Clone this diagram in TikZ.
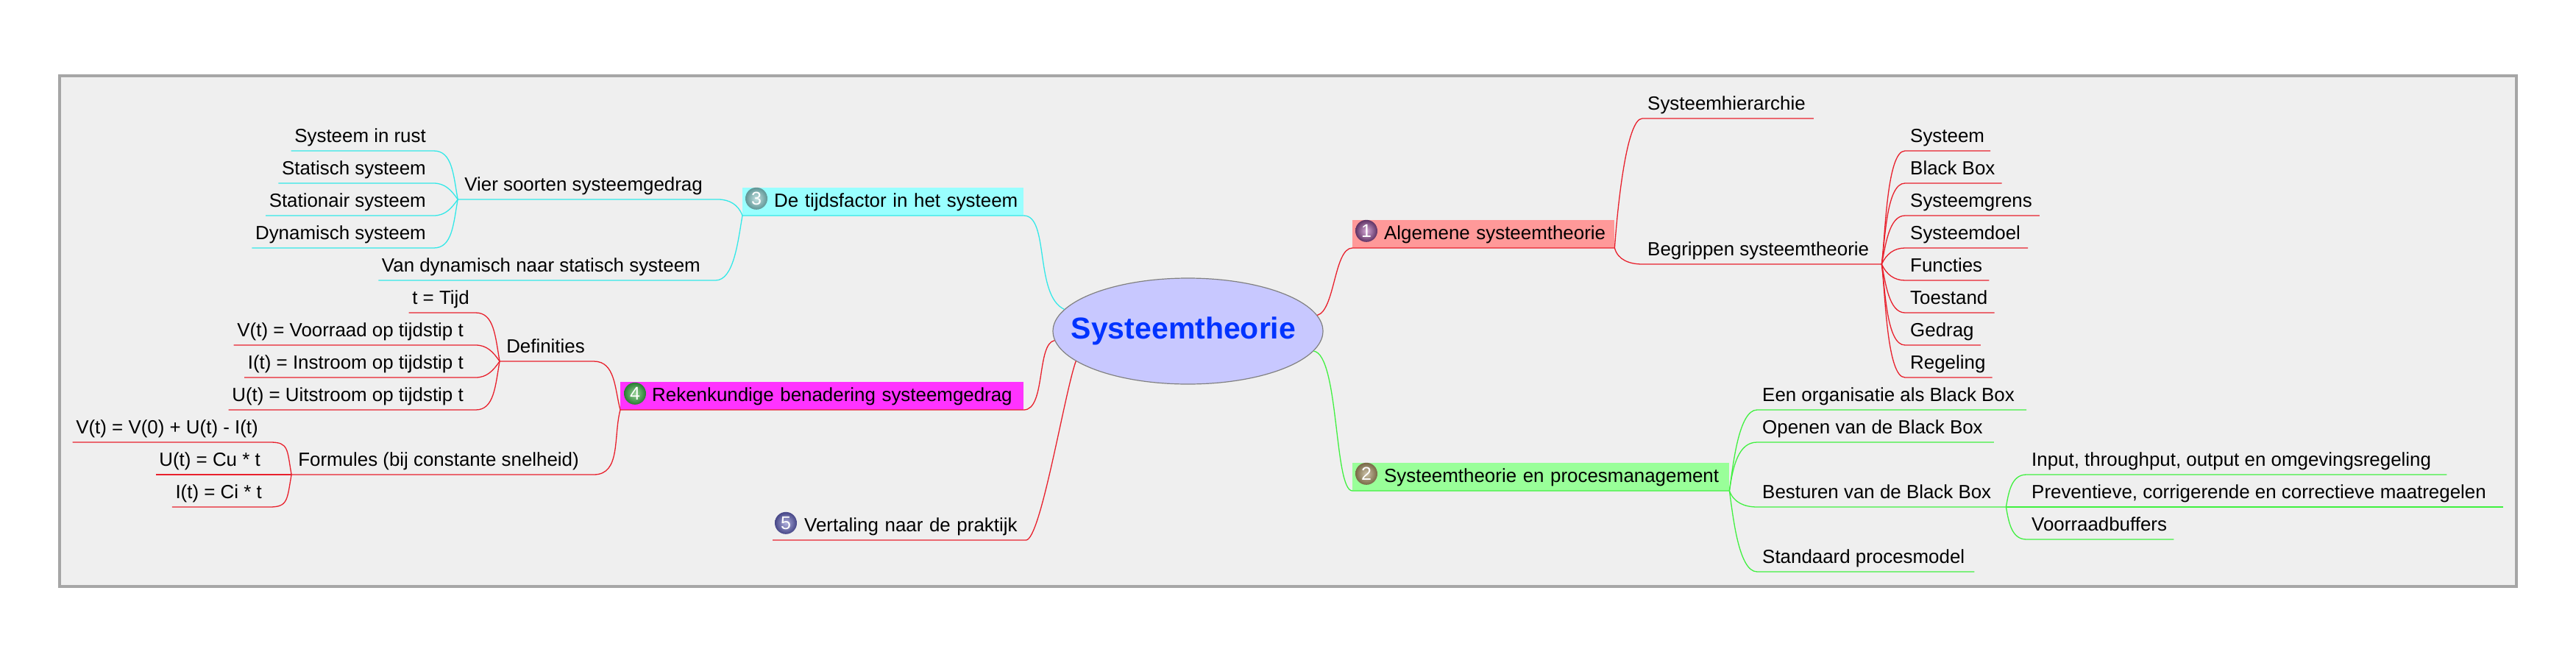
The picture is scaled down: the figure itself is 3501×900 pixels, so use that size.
\documentclass[tikz,border=0pt]{standalone}
\usepackage{fontspec}
\setmainfont{Liberation Sans}
\usetikzlibrary{shapes.geometric}
\usetikzlibrary{positioning}
\definecolor{cyanln}{RGB}{51,232,232}
\definecolor{redln}{RGB}{232,32,44}
\definecolor{greenln}{RGB}{64,240,64}
\tikzset{
    every node/.style={font=\fontsize{25.9}{30}\selectfont},
    frame/.style={draw={rgb,255:red,166;green,166;blue,166}, line width=3.5pt, fill={rgb,255:red,239;green,239;blue,239}},
    mainidea/.style={
           ellipse,
           draw={rgb,255:red,128;green,128;blue,128}, line width=1.2pt,
           fill={rgb,255:red,200;green,200;blue,255},
           minimum width=367pt,
           minimum height=144pt,
           inner sep=0pt,
           },
    topic/.style={inner ysep=0pt, text height=19pt, text depth=11pt},
    leftleaf/.style={topic, inner xsep=4.5pt, anchor=south east},
    leftbranch/.style={topic, inner xsep=9pt, anchor=south east},
    rightleaf/.style={topic, inner xsep=7pt, anchor=south west},
    nextleft/.style={below=44pt of #1.south east, anchor=south east},
    nextright/.style={below=44pt of #1.south west, anchor=south west},
    mainbox/.style={
           inner sep=0pt,
           text height=27pt,
           text depth=11pt,
           align=left,
           anchor=south west,
           },
    ball/.style={circle, minimum size=30pt, inner sep=0pt, text=white, font=\fontsize{25}{25}\selectfont},
    cyanpath/.style={draw=cyanln, line width=1.3pt},
    redpath/.style={draw=redln, line width=1.3pt},
    greenpath/.style={draw=greenln, line width=1.3pt},
    % tight bends for the long connectors
    farup/.style={out=82,in=180,out distance=35pt,in distance=25pt},
    fardown/.style={out=-82,in=180,out distance=35pt,in distance=25pt},
    leftfarup/.style={out=0,in=100,out distance=25pt,in distance=35pt},
    leftfardown/.style={out=0,in=-100,out distance=25pt,in distance=35pt},
}
\begin{document}
\begin{tikzpicture}[x=1pt,y=-1pt]
  \useasboundingbox (0,0) rectangle (3501,900);
  \path[frame] (81,103) rectangle (3420,797);

  \node[mainidea] (main) at (1614.5,450)
   {\makebox[0pt]{\fontsize{41}{41}\selectfont\bfseries\color[RGB]{0,51,255}Systeemtheorie\hspace{12pt}}};

  % the five main topics, text moved past the ball
  \node[mainbox,fill={rgb,255:red,255;green,153;blue,153},text width=356pt] (algemeen) at (1838,337)
   {\hspace*{43pt}Algemene systeemtheorie};
  \node[mainbox,fill={rgb,255:red,153;green,255;blue,153},text width=512pt] (proces) at (1838,667)
   {\hspace*{43pt}Systeemtheorie en procesmanagement};
  \node[mainbox,fill={rgb,255:red,153;green,255;blue,255},text width=382pt] (tijd) at (1009,293)
   {\hspace*{43pt}De tijdsfactor in het systeem};
  \node[mainbox,fill={rgb,255:red,255;green,51;blue,255},text width=548pt] (reken) at (843,557)
   {\hspace*{43pt}Rekenkundige benadering systeemgedrag};
  \node[mainbox,text width=344pt] (vertaling) at (1050,734)
   {\hspace*{43pt}Vertaling naar de praktijk};

  \node[ball,inner color={rgb,255:red,215;green,170;blue,215},outer color={rgb,255:red,95;green,50;blue,100}] (bal1) at ([shift={(19,-4)}]algemeen.west) {1};
  \node[ball,inner color={rgb,255:red,205;green,195;blue,170},outer color={rgb,255:red,120;green,105;blue,70}] (bal2) at ([shift={(19,-4)}]proces.west) {2};
  \node[ball,inner color={rgb,255:red,195;green,225;blue,225},outer color={rgb,255:red,95;green,150;blue,150}] (bal3) at ([shift={(19,-4)}]tijd.west) {3};
  \node[ball,inner color={rgb,255:red,150;green,210;blue,150},outer color={rgb,255:red,40;green,125;blue,50}] (bal4) at ([shift={(20,-3)}]reken.west) {4};
  \node[ball,inner color={rgb,255:red,175;green,175;blue,220},outer color={rgb,255:red,70;green,70;blue,135}] (bal5) at ([shift={(18,-4)}]vertaling.west) {5};

  % cyan branch
  \node[leftbranch] (vier) at (964,271) {Vier soorten systeemgedrag};
  \node[leftleaf] (vandyn) at (956.5,381) {Van dynamisch naar statisch systeem};
  \node[leftleaf] (rust) at (583.5,205) {Systeem in rust};
  \node[leftleaf,nextleft=rust] (statisch) {Statisch systeem};
  \node[leftleaf,nextleft=statisch] (stationair) {Stationair systeem};
  \node[leftleaf,nextleft=stationair] (dynamisch) {Dynamisch systeem};

  % red branch on the left
  \node[leftbranch] (definities) at (804,491) {Definities};
  \node[leftbranch] (formules) at (796,645) {Formules (bij constante snelheid)};
  \node[leftleaf] (ttijd) at (642.5,425) {t = Tijd};
  \node[leftleaf] (voorraad) at (634.5,469) {V(t) = Voorraad op tijdstip t};
  \node[leftleaf,nextleft=voorraad] (instroom) {I(t) = Instroom op tijdstip t};
  \node[leftleaf,nextleft=instroom] (uitstroom) {U(t) = Uitstroom op tijdstip t};
  \node[leftleaf] (fvoorraad) at (355.5,601) {V(t) = V(0) + U(t) - I(t)};
  \node[leftleaf] (fuit) at (358.5,645) {U(t) = Cu * t};
  \node[leftleaf] (fin) at (360.5,689) {I(t) = Ci * t};

  % red branch on the right
  \node[rightleaf] (hierarchie) at (2232,161) {Systeemhierarchie};
  \node[rightleaf] (begrippen) at (2232,359) {Begrippen systeemtheorie};
  \coordinate (begripjunc) at ([xshift=10pt]begrippen.south east);
  \node[rightleaf] (systeem) at (2589,205) {Systeem};
  \node[rightleaf,nextright=systeem] (blackbox) {Black Box};
  \node[rightleaf,nextright=blackbox] (grens) {Systeemgrens};
  \node[rightleaf,nextright=grens] (doel) {Systeemdoel};
  \node[rightleaf,nextright=doel] (functies) {Functies};
  \node[rightleaf,nextright=functies] (toestand) {Toestand};
  \node[rightleaf,nextright=toestand] (gedrag) {Gedrag};
  \node[rightleaf,nextright=gedrag] (regeling) {Regeling};

  % green branch
  \node[rightleaf] (een) at (2388,557) {Een organisatie als Black Box};
  \node[rightleaf,nextright=een] (openen) {Openen van de Black Box};
  \node[rightleaf] (besturen) at (2388,689) {Besturen van de Black Box};
  \coordinate (besturenjunc) at ([xshift=13pt]besturen.south east);
  \node[rightleaf] (standaard) at (2388,777) {Standaard procesmodel};
  \node[rightleaf] (input) at (2754,645) {Input, throughput, output en omgevingsregeling};
  \node[rightleaf,nextright=input] (preventief) {Preventieve, corrigerende en correctieve maatregelen};
  \node[rightleaf,nextright=preventief] (buffers) {Voorraadbuffers};

  % draw the connectors, always from the child end
  \draw[cyanpath] (tijd.south west) -- (tijd.south east) to[out=0,in=155,out distance=35pt,in distance=45pt] (main.170);
  \draw[cyanpath] (vier.south west) -- ([xshift=12pt]vier.south east) to[out=0,in=110] (tijd.south west);
  \draw[cyanpath] (vandyn.south west) -- ([xshift=16pt]vandyn.south east) to[leftfardown] (tijd.south west);
  \draw[cyanpath] (rust.south west) -- ([xshift=6pt]rust.south east) to[leftfarup] (vier.south west);
  \draw[cyanpath] (statisch.south west) -- ([xshift=6pt]statisch.south east) to[out=0,in=125] (vier.south west);
  \draw[cyanpath] (stationair.south west) -- ([xshift=6pt]stationair.south east) to[out=0,in=-125] (vier.south west);
  \draw[cyanpath] (dynamisch.south west) -- ([xshift=6pt]dynamisch.south east) to[leftfardown] (vier.south west);

  \draw[redpath] (reken.south west) -- (reken.south east) to[out=0,in=190,out distance=30pt,in distance=25pt] (main.184);
  \draw[redpath] (vertaling.south west) -- (vertaling.south east) to[out=0,in=250,out distance=20pt,in distance=45pt] (main.195);
  \draw[redpath] (definities.south west) -- ([xshift=3pt]definities.south east) to[out=0,in=105] (reken.south west);
  \draw[redpath] (formules.south west) -- ([xshift=11pt]formules.south east) to[out=0,in=-105] (reken.south west);
  \draw[redpath] (ttijd.south west) -- ([xshift=4pt]ttijd.south east) to[leftfarup] (definities.south west);
  \draw[redpath] (voorraad.south west) -- ([xshift=12pt]voorraad.south east) to[out=0,in=125] (definities.south west);
  \draw[redpath] (instroom.south west) -- ([xshift=12pt]instroom.south east) to[out=0,in=-125] (definities.south west);
  \draw[redpath] (uitstroom.south west) -- ([xshift=12pt]uitstroom.south east) to[leftfardown] (definities.south west);
  \draw[redpath] (fvoorraad.south west) -- ([xshift=12pt]fvoorraad.south east) to[leftfarup] (formules.south west);
  \draw[redpath] (fuit.south west) -- (formules.south west);
  \draw[redpath] (fin.south west) -- ([xshift=6pt]fin.south east) to[leftfardown] (formules.south west);

  \draw[redpath] (algemeen.south east) -- (algemeen.south west) to[out=180,in=15,out distance=25pt,in distance=25pt] (main.7);
  \draw[redpath] (algemeen.south east) to[out=86,in=180,out distance=50pt,in distance=22pt] (hierarchie.south west) -- ([xshift=4pt]hierarchie.south east);
  \draw[redpath] (algemeen.south east) to[out=-75,in=180] (begrippen.south west) -- (begripjunc);
  \draw[redpath] (begripjunc) to[farup] (systeem.south west) -- ([xshift=1pt]systeem.south east);
  \draw[redpath] (begripjunc) to[farup] (blackbox.south west) -- ([xshift=2pt]blackbox.south east);
  \draw[redpath] (begripjunc) to[out=78,in=180,out distance=25pt,in distance=22pt] (grens.south west) -- ([xshift=3pt]grens.south east);
  \draw[redpath] (begripjunc) to[out=65,in=180] (doel.south west) -- ([xshift=3pt]doel.south east);
  \draw[redpath] (begripjunc) to[out=-65,in=180] (functies.south west) -- ([xshift=2pt]functies.south east);
  \draw[redpath] (begripjunc) to[out=-78,in=180,out distance=25pt,in distance=22pt] (toestand.south west) -- ([xshift=2pt]toestand.south east);
  \draw[redpath] (begripjunc) to[fardown] (gedrag.south west) -- ([xshift=2pt]gedrag.south east);
  \draw[redpath] (begripjunc) to[fardown] (regeling.south west) -- ([xshift=2pt]regeling.south east);

  \draw[greenpath] (proces.south east) -- (proces.south west) to[out=180,in=-8,out distance=25pt,in distance=35pt] (main.-9);
  \draw[greenpath] (proces.south east) to[farup] (een.south west) -- ([xshift=9pt]een.south east);
  \draw[greenpath] (proces.south east) to[farup] (openen.south west) -- ([xshift=8pt]openen.south east);
  \draw[greenpath] (proces.south east) to[out=-70,in=180] (besturen.south west) -- (besturenjunc);
  \draw[greenpath] (proces.south east) to[fardown] (standaard.south west) -- ([xshift=6pt]standaard.south east);
  \draw[greenpath] (besturenjunc) to[out=80,in=180] (input.south west) -- ([xshift=14pt]input.south east);
  \draw[greenpath] (besturenjunc) -- (preventief.south west) -- ([xshift=16pt]preventief.south east);
  \draw[greenpath] (besturenjunc) to[out=-80,in=180] (buffers.south west) -- ([xshift=2pt]buffers.south east);
\end{tikzpicture}
\end{document}
